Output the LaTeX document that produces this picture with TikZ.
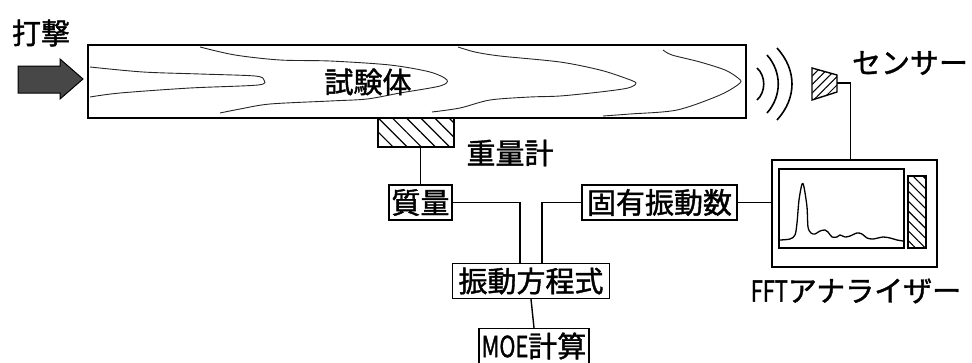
\documentclass[tikz,border=0pt]{standalone}
\usepackage{fontspec}
\newfontfamily\jpfont[FakeBold=1.4]{Noto Sans CJK JP}
\usetikzlibrary{patterns.meta}
\tikzset{
  blk/.style={draw=black, line width=1.4pt, inner sep=2pt, minimum height=35pt,
    font=\jpfont\fontsize{29}{30}\selectfont},
  lbl/.style={inner sep=0pt, font=\jpfont\fontsize{29}{30}\selectfont},
  wire/.style={line width=1.4pt},
  grain/.style={line width=0.9pt, black!85},
  wave/.style={line width=1.6pt},
  hatch/.style={pattern={Lines[angle=-45, distance=10pt, line width=1.2pt]}},
  hatchs/.style={pattern={Lines[angle=-45, distance=7pt, line width=1.1pt]}}
}
\newcommand{\hw}[1]{\scalebox{0.75}[1]{#1}}

\begin{document}
\begin{tikzpicture}[x=1pt, y=-1pt]
  \useasboundingbox (0,0) rectangle (972,362);

  % impact arrow
  \node[lbl] (hit) at (41,33) {打撃};
  \draw[line width=1pt, fill=black!72] (18,66) -- (60,66) -- (60,59) -- (83,79)
    -- (60,99) -- (60,93) -- (18,93) -- cycle;

  % test beam with wood grain
  \node[draw, line width=2.6pt, minimum width=658, minimum height=73, inner sep=0pt]
    (beam) at (417,81.5) {};
  \draw[grain] plot[smooth] coordinates {(90,67) (143,72) (200,74) (255,76) (264,80)
    (258,85) (190,88) (120,93) (90,97)};
  \draw[grain] plot[smooth] coordinates {(200,47) (235,55) (280,60) (330,61) (390,65)
    (430,72) (447,80) (440,86) (400,93) (367,99) (330,101) (270,104) (240,109) (220,113)};
  \draw[grain] plot[smooth] coordinates {(458,47) (475,52) (500,56) (560,62) (600,70)
    (625,78) (636,83) (628,88) (600,92) (560,96) (530,97) (490,100) (460,108) (432,112)};
  \draw[grain] plot[smooth] coordinates {(663,50) (672,55) (700,62) (725,70) (738,78)
    (740,83) (720,95) (677,110) (630,114) (603,116)};
  \node[lbl] (spec) at (368,82) {試験体};

  % sound waves
  \draw[wave] (757,68) .. controls (766,76) and (766,92) .. (757,100);
  \draw[wave] (767,55) .. controls (782,72) and (782,96) .. (767,113);
  \draw[wave] (777,48) .. controls (797,70) and (797,98) .. (777,120);

  % sensor
  \draw[line width=1.4pt, pattern={Lines[angle=45, distance=6pt, line width=1pt]}]
    (812,68) -- (837,75) -- (837,92) -- (812,100) -- cycle;
  \coordinate (sensor) at (837,83);
  \node[lbl] (senlbl) at (910,63) {センサー};

  % scale under the beam
  \node[draw, line width=1.4pt, hatch, minimum width=76, minimum height=29, inner sep=0pt]
    (scale) at (416,132.5) {};
  \node[lbl] (scalelbl) at (510,153) {重量計};

  % FFT analyzer
  \node[draw, line width=1.6pt, minimum width=165, minimum height=107, inner sep=0pt]
    (fft) at (854.5,213.5) {};
  \draw[line width=1.4pt] (779,169) rectangle (904,248);
  \draw[line width=1.2pt, hatchs] (908,176) rectangle (926,248);
  \draw[line width=1.3pt] plot[smooth] coordinates {(780,240) (790,239) (795,235)
    (797,223) (799,200) (802,184) (804,187) (807,207) (808,227) (811,233) (815,234)
    (820,231) (825,230) (828,232) (832,237) (837,237) (840,235) (845,237) (850,236)
    (857,233) (862,234) (867,238) (873,239) (883,237) (890,238) (897,240) (903,241)};
  \node[lbl] (fftlbl) at (856,291) {\hw{FFT}アナライザー};

  % calculation blocks
  \node[blk, minimum width=63] (mass) at (420.5,202.5) {質量};
  \node[blk, minimum width=155] (freq) at (659.5,202.5) {固有振動数};
  \node[blk, minimum width=157] (eqn) at (531,281) {振動方程式};
  \node[blk, minimum width=110] (moe) at (534,346) {\hw{MOE}計算};

  % connections
  \draw[wire] (mass.north |- scale.south) -- (mass.north);
  \draw[wire] (mass.east) -| ([xshift=-11pt]eqn.north);
  \draw[wire] (freq.west) -| ([xshift=11pt]eqn.north);
  \draw[wire] (freq.east) -- (freq.east -| fft.west);
  \draw[wire] (eqn.south) -- (moe.north);
  \draw[wire] (sensor) -| ([xshift=-4pt]fft.north);
\end{tikzpicture}
\end{document}
